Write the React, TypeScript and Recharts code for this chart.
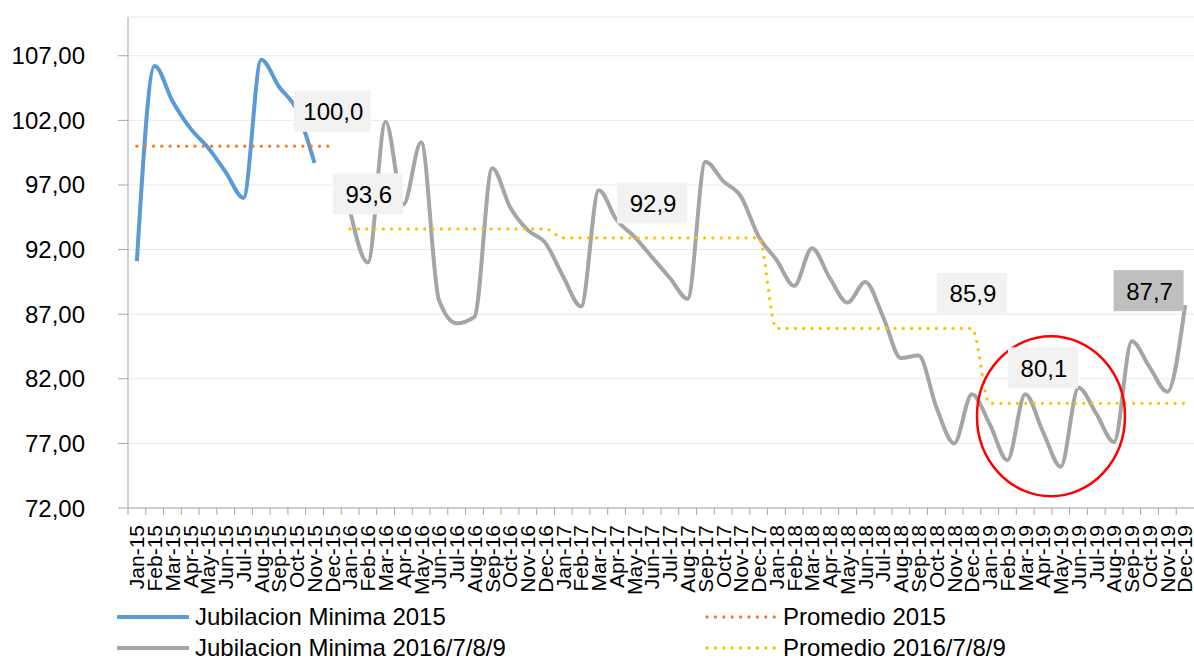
import React from "react";
import {
  LineChart,
  Line,
  XAxis,
  YAxis,
  CartesianGrid,
  LabelList,
  ReferenceDot,
} from "recharts";

const months = [
  "Jan-15", "Feb-15", "Mar-15", "Apr-15", "May-15", "Jun-15", "Jul-15", "Aug-15", "Sep-15", "Oct-15", "Nov-15", "Dec-15",
  "Jan-16", "Feb-16", "Mar-16", "Apr-16", "May-16", "Jun-16", "Jul-16", "Aug-16", "Sep-16", "Oct-16", "Nov-16", "Dec-16",
  "Jan-17", "Feb-17", "Mar-17", "Apr-17", "May-17", "Jun-17", "Jul-17", "Aug-17", "Sep-17", "Oct-17", "Nov-17", "Dec-17",
  "Jan-18", "Feb-18", "Mar-18", "Apr-18", "May-18", "Jun-18", "Jul-18", "Aug-18", "Sep-18", "Oct-18", "Nov-18", "Dec-18",
  "Jan-19", "Feb-19", "Mar-19", "Apr-19", "May-19", "Jun-19", "Jul-19", "Aug-19", "Sep-19", "Oct-19", "Nov-19", "Dec-19",
];

// Jan-15 .. Nov-15
const jub2015 = [91.1, 106.2, 103.5, 101.4, 99.9, 98.0, 96.0, 106.7, 104.6, 102.8, 98.7];
// Jan-15 .. Dec-15
const prom2015 = [100.0, 100.0, 100.0, 100.0, 100.0, 100.0, 100.0, 100.0, 100.0, 100.0, 100.0, 100.0];
// Jan-16 .. Dec-19
const jub1619 = [
  95.0, 91.0, 101.9, 95.5, 100.3, 88.1, 86.3, 86.8, 98.3, 95.3, 93.5, 92.5,
  89.9, 87.6, 96.6, 94.3, 93.0, 91.4, 89.8, 88.2, 98.8, 97.3, 96.1, 93.0,
  91.2, 89.2, 92.1, 89.8, 87.9, 89.5, 86.8, 83.6, 83.8, 79.8, 77.0, 80.8,
  78.5, 75.7, 80.8, 77.9, 75.2, 81.3, 79.3, 77.1, 84.9, 82.9, 81.0, 87.7,
];
const prom1619 = [
  93.6, 93.6, 93.6, 93.6, 93.6, 93.6, 93.6, 93.6, 93.6, 93.6, 93.6, 93.6,
  92.9, 92.9, 92.9, 92.9, 92.9, 92.9, 92.9, 92.9, 92.9, 92.9, 92.9, 92.9,
  85.9, 85.9, 85.9, 85.9, 85.9, 85.9, 85.9, 85.9, 85.9, 85.9, 85.9, 85.9,
  80.1, 80.1, 80.1, 80.1, 80.1, 80.1, 80.1, 80.1, 80.1, 80.1, 80.1, 80.1,
];
const yTicks = [72, 77, 82, 87, 92, 97, 102, 107];

const data = months.map((month, i) => ({
  month,
  jub2015: i < jub2015.length ? jub2015[i] : null,
  prom2015: i < prom2015.length ? prom2015[i] : null,
  jub1619: i >= 12 ? jub1619[i - 12] : null,
  prom1619: i >= 12 ? prom1619[i - 12] : null,
}));

const W = 1194;
const H = 660;
const PLOT_LEFT = 128;
const PLOT_TOP = 17;
const X_AXIS_H = 152;
const PLOT_BOTTOM = H - X_AXIS_H;
const BAND = (W - PLOT_LEFT) / months.length;
const FONT = "'Liberation Sans', Arial, sans-serif";
const AXIS = "#A6A6A6";

const fmt = (v: number, d: number) => v.toFixed(d).replace(".", ",");

function MonthTick(props: any) {
  const { x, payload } = props;
  const bx = x - BAND / 2;
  return (
    <g>
      <line x1={bx} x2={bx} y1={PLOT_BOTTOM} y2={PLOT_BOTTOM + 7} stroke={AXIS} />
      <text
        transform={`translate(${x},${PLOT_BOTTOM + 17}) rotate(-90)`}
        textAnchor="end"
        dy="0.35em"
        fontSize={21}
        fontFamily={FONT}
        fill="#000"
      >
        {payload.value}
      </text>
    </g>
  );
}

// boxed value labels: index -> box offset and fill
const boxLabel =
  (marks: Record<number, { dx: number; dy: number; fill: string }>) =>
  (props: any) => {
    const m = marks[props.index];
    if (!m || props.value == null) return null;
    const px = props.viewBox?.x ?? props.x;
    const py = props.viewBox?.y ?? props.y;
    const text = fmt(Number(props.value), 1);
    const w = 42 + 7 * text.length;
    const cx = px + m.dx;
    const cy = py + m.dy;
    return (
      <g>
        <rect x={cx - w / 2} y={cy - 20} width={w} height={41} fill={m.fill} />
        <text
          x={cx + 1}
          y={cy + 1}
          textAnchor="middle"
          dominantBaseline="central"
          fontSize={24}
          fontFamily={FONT}
          fill="#000"
        >
          {text}
        </text>
      </g>
    );
  };

const LIGHT = "#F2F2F2";

function LegendRow({ x, y, color, dotted, label }: any) {
  return (
    <div style={{ position: "absolute", left: x, top: y - 15, height: 30, display: "flex", alignItems: "center" }}>
      <svg width={72} height={10} style={{ display: "block" }}>
        <line
          x1={dotted ? 2 : 1}
          x2={dotted ? 70 : 71}
          y1={5}
          y2={5}
          stroke={color}
          strokeWidth={dotted ? 3.3 : 4}
          strokeDasharray={dotted ? "0 8.4" : undefined}
          strokeLinecap="round"
        />
      </svg>
      <span style={{ marginLeft: 6, fontFamily: FONT, fontSize: 24, color: "#000", whiteSpace: "nowrap" }}>{label}</span>
    </div>
  );
}

export default function App() {
  return (
    <div style={{ position: "absolute", left: 0, top: 0, width: W, height: H, background: "#fff" }}>
      <LineChart
        width={W}
        height={H}
        data={data}
        margin={{ top: PLOT_TOP, right: 0, left: 0, bottom: 0 }}
      >
        <CartesianGrid vertical={false} stroke="#E9E9E9" />
        <XAxis
          dataKey="month"
          interval={0}
          height={X_AXIS_H}
          padding={{ left: BAND / 2, right: BAND / 2 }}
          tickLine={false}
          axisLine={{ stroke: AXIS }}
          tick={<MonthTick />}
        />
        <YAxis
          domain={[72, 110]}
          ticks={yTicks}
          width={PLOT_LEFT}
          tickSize={10}
          tickMargin={33}
          tickLine={{ stroke: AXIS }}
          axisLine={{ stroke: AXIS }}
          tickFormatter={(v: number) => fmt(v, 2)}
          tick={{ fontSize: 24, fontFamily: FONT, fill: "#000" }}
        />
        <Line
          dataKey="jub2015"
          type="monotone"
          stroke="#5B9BD5"
          strokeWidth={4}
          dot={false}
          activeDot={false}
          isAnimationActive={false}
        />
        <Line
          dataKey="prom2015"
          type="monotone"
          stroke="#ED7D31"
          strokeWidth={3.3}
          strokeDasharray="0 8.3"
          strokeLinecap="round"
          dot={false}
          activeDot={false}
          isAnimationActive={false}
        >
          <LabelList content={boxLabel({ 11: { dx: 0, dy: -35.5, fill: LIGHT } })} />
        </Line>
        <Line
          dataKey="jub1619"
          type="monotone"
          stroke="#A5A5A5"
          strokeWidth={4}
          dot={false}
          activeDot={false}
          isAnimationActive={false}
        >
          <LabelList content={boxLabel({ 59: { dx: -36.5, dy: -15, fill: "#BFBFBF" } })} />
        </Line>
        <Line
          dataKey="prom1619"
          type="monotone"
          stroke="#FFC000"
          strokeWidth={3.3}
          strokeDasharray="0 8.3"
          strokeLinecap="round"
          dot={false}
          activeDot={false}
          isAnimationActive={false}
        >
          <LabelList
            content={boxLabel({
              13: { dx: 0, dy: -35.5, fill: LIGHT },
              29: { dx: 0, dy: -35.5, fill: LIGHT },
              47: { dx: 0, dy: -35.5, fill: LIGHT },
              51: { dx: 0, dy: -36, fill: LIGHT },
            })}
          />
        </Line>
        <ReferenceDot
          x="Apr-19"
          y={79.1}
          r={0}
          shape={(p: any) => (
            <ellipse cx={p.cx + 8} cy={p.cy} rx={74} ry={80} fill="none" stroke="#FF0000" strokeWidth={2.5} />
          )}
        />
      </LineChart>
      <LegendRow x={117} y={617} color="#5B9BD5" label="Jubilacion Minima 2015" />
      <LegendRow x={705} y={617} color="#ED7D31" dotted label="Promedio 2015" />
      <LegendRow x={117} y={648} color="#A5A5A5" label="Jubilacion Minima 2016/7/8/9" />
      <LegendRow x={705} y={648} color="#FFC000" dotted label="Promedio 2016/7/8/9" />
    </div>
  );
}
